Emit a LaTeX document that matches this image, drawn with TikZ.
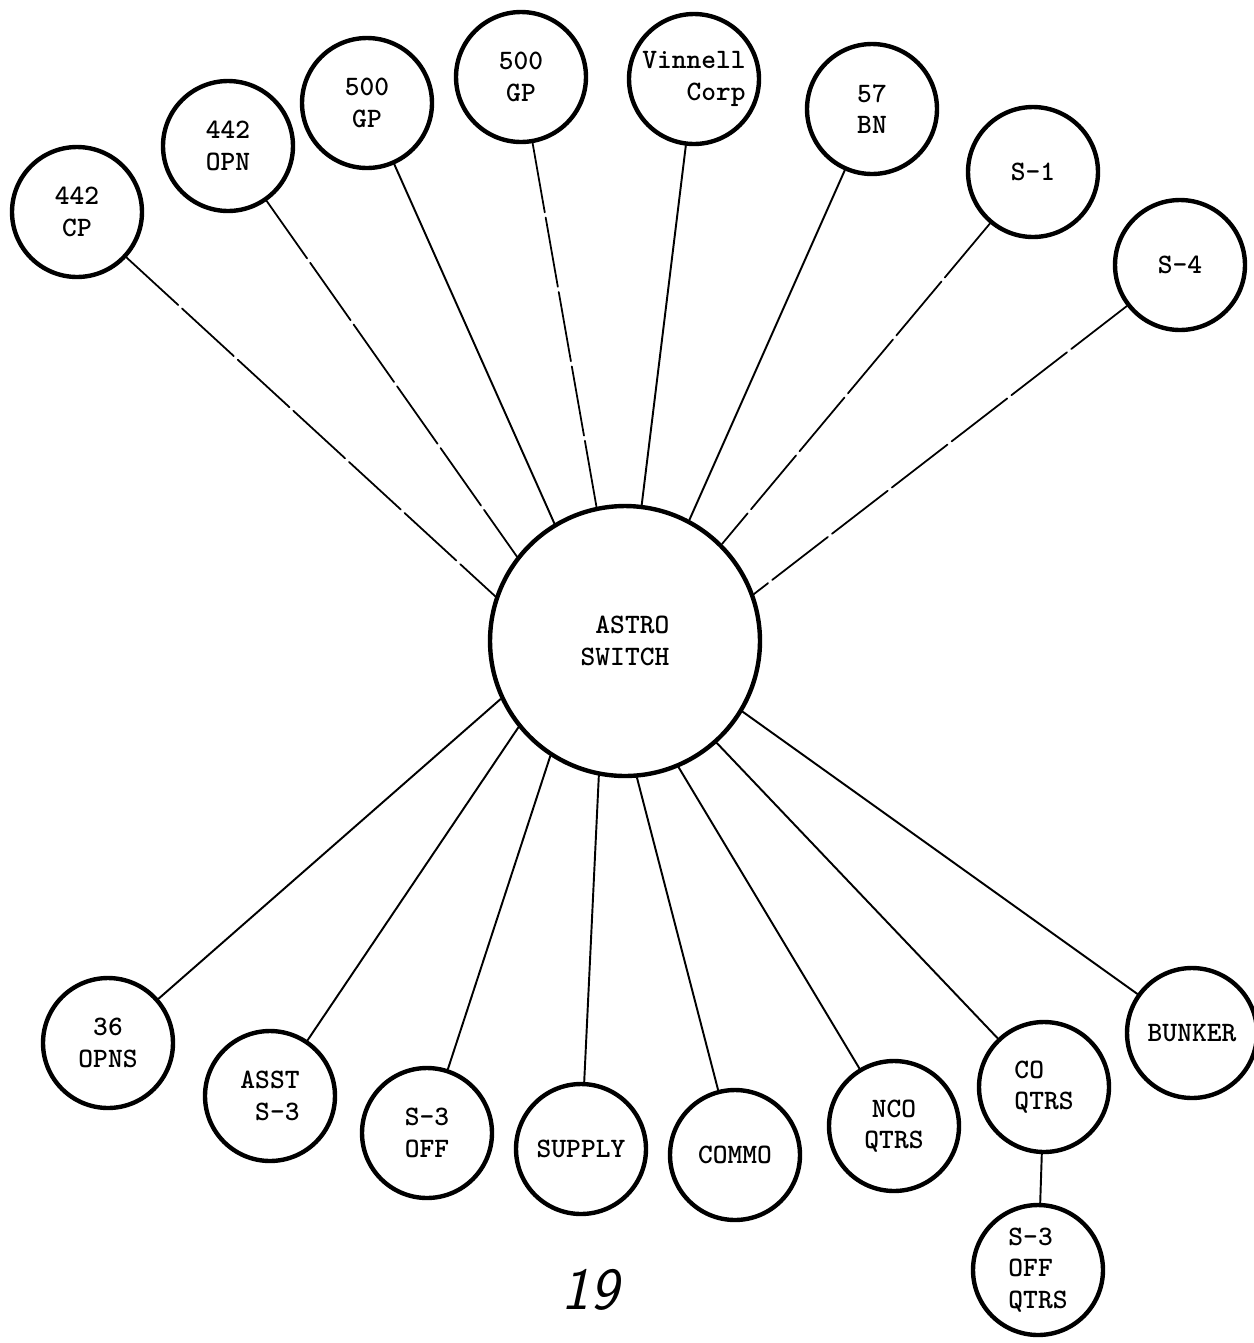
\documentclass[tikz,border=0pt]{standalone}
\begin{document}
\begin{tikzpicture}[x=0.02cm,y=-0.02cm,line join=round,line cap=round,
	font=\ttfamily\bfseries\fontsize{16}{18}\selectfont,
	stn/.style={circle,draw,line width=2.5pt,minimum size=2.6cm,inner sep=0pt,align=center},
	wire/.style={line width=1.1pt},
	faint/.style={line width=1pt,dash pattern=on 40pt off 3pt}]
	\useasboundingbox (0,0) rectangle (1254,1343);
	% switch
	\node[stn,minimum size=5.4cm,align=right] (astro) at (625,641) {ASTRO\\SWITCH};
	% top row
	\node[stn] (cp442) at (77,212) {442\\CP};
	\node[stn] (opn442) at (228,146) {442\\OPN};
	\node[stn] (gpa) at (367,103) {500\\GP};
	\node[stn] (gpb) at (521,77) {500\\GP};
	\node[stn,align=right] (vin) at (694,79) {Vinnell\\Corp};
	\node[stn] (bn57) at (872,109) {57\\BN};
	\node[stn] (s1) at (1033,172) {S-1};
	\node[stn] (s4) at (1180,265) {S-4};
	% bottom row
	\node[stn] (opns36) at (108,1043) {36\\OPNS};
	\node[stn,align=right] (asst) at (270,1096) {ASST\\S-3};
	\node[stn] (s3off) at (427,1133) {S-3\\OFF};
	\node[stn] (supply) at (581,1149) {SUPPLY};
	\node[stn] (commo) at (735,1155) {COMMO};
	\node[stn] (nco) at (894,1126) {NCO\\QTRS};
	\node[stn,align=left] (coq) at (1044,1087) {CO\\QTRS};
	\node[stn] (bunker) at (1192,1033) {BUNKER};
	\node[stn,align=left] (s3offq) at (1038,1270) {S-3\\OFF\\QTRS};
	\node[font=\sffamily\slshape\fontsize{34}{34}\selectfont] (pg) at (590,1290) {19};
	% connectors, each to its own point on the switch
	\foreach \n/\a/\s in {cp442/161/faint,opn442/142/faint,gpa/121/wire,gpb/102/faint,vin/83/wire,
		bn57/62/wire,s1/45/faint,s4/20/faint,opns36/205/wire,asst/219/wire,s3off/237/wire,
		supply/259/wire,commo/275/wire,nco/293/wire,coq/312/wire,bunker/329/wire}
	\draw[\s] (\n) -- (astro.\a);
	\draw[wire] (coq) -- (s3offq);
\end{tikzpicture}
\end{document}
